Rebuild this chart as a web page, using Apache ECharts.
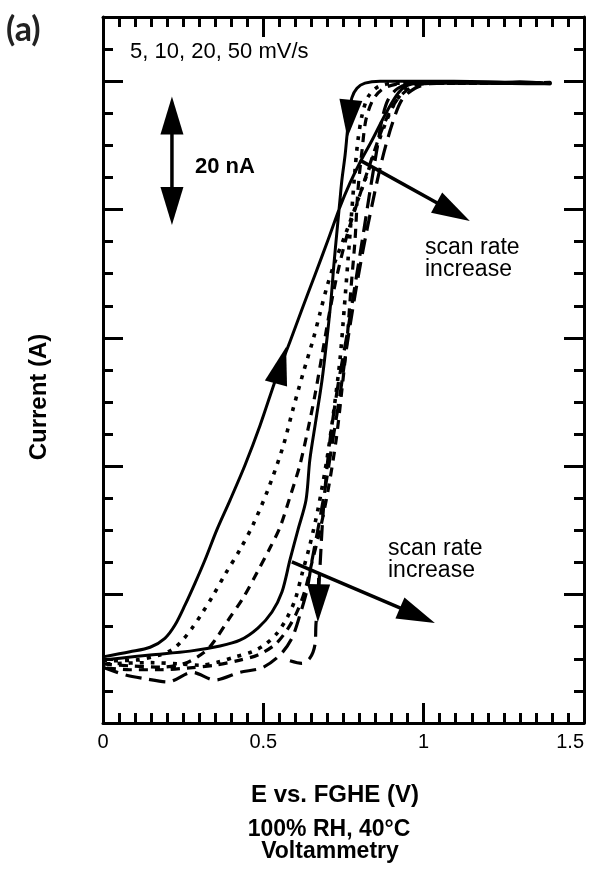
<!DOCTYPE html>
<html><head><meta charset="utf-8">
<script src="https://cdn.jsdelivr.net/npm/echarts@6/dist/echarts.min.js"></script>
<style>html,body{margin:0;padding:0;background:#fff}#c{width:591px;height:869px}</style>
</head><body><div id="c"></div>
<script>
// Axis ranges (V and nA)
const xMin = 0, xMax = 1.5, xStep = 0.5;
const yMin = 0, yMax = 110, yStep = 20;

// 5 mV/s (solid)
const s5Fwd = [[0,10.3],[.084,11.1],[.147,11.8],[.193,13.2],[.225,15.3],[.256,18.4],[.287,21.8],[.318,25.4],[.355,30.1],[.396,34.7],[.443,40.2],[.490,46.4],[.543,54.2],[.583,59.4],[.620,64.4],[.661,69.8],[.702,75.3],[.739,80.4],[.770,84.1],[.801,87.3],[.839,90.8],[.879,94.7],[.917,97.9],[.948,99.3],[.988,99.7],[1.082,99.9],[1.207,99.7],[1.300,99.9],[1.394,99.6]];
const s5Bwd = [[1.394,99.6],[1.20,99.9],[.988,100.0],[.864,100.0],[.817,99.7],[.792,98.9],[.776,97.4],[.767,94.7],[.761,91.6],[.755,88.5],[.745,84.6],[.739,81.5],[.730,76.8],[.720,71.4],[.711,65.9],[.698,59.7],[.683,53.4],[.664,47.2],[.645,41.0],[.633,34.7],[.608,30.1],[.583,25.4],[.558,20.4],[.527,17.3],[.483,14.8],[.427,12.9],[.365,12.0],[.271,11.2],[.147,10.6],[.053,10.1],[0,9.8]];
// 10 mV/s (dotted)
const s10Fwd = [[0,9.7],[.1,9.8],[.178,10.6],[.215,11.4],[.246,12.8],[.278,14.8],[.309,17.1],[.340,19.6],[.380,23.1],[.427,27.0],[.468,30.9],[.514,36.3],[.561,43.0],[.592,48.8],[.624,54.5],[.655,59.7],[.677,63.9],[.698,67.9],[.723,71.8],[.755,76.0],[.795,81.5],[.839,87.7],[.879,93.2],[.910,96.6],[.942,98.6],[.988,99.6],[1.051,99.7],[1.394,99.7]];
const s10Bwd = [[1.394,99.7],[1.051,99.7],[.910,99.7],[.857,99.1],[.826,97.5],[.808,94.7],[.795,90.8],[.786,86.2],[.776,79.9],[.764,72.1],[.752,64.4],[.739,56.6],[.720,48.8],[.698,41.0],[.670,33.2],[.645,27.7],[.620,23.1],[.599,19.2],[.574,16.4],[.543,14.0],[.505,12.2],[.465,11.1],[.412,10.3],[.359,9.5],[.302,9.0],[.240,9.2],[.150,9.4],[0,9.2]];
// 20 mV/s (short dash)
const s20Fwd = [[0,9.2],[.084,8.9],[.178,8.7],[.256,9.3],[.318,11.1],[.349,12.9],[.390,16.0],[.437,19.5],[.480,23.4],[.521,27.3],[.552,30.5],[.583,35.2],[.614,40.2],[.639,45.7],[.661,51.1],[.683,57.3],[.705,63.6],[.730,69.8],[.761,76.0],[.801,82.3],[.842,88.5],[.879,93.6],[.917,97.1],[.957,98.9],[1.004,99.6],[1.066,99.7],[1.394,99.8]];
const s20Bwd = [[1.394,99.8],[1.066,99.7],[.926,99.6],[.873,98.8],[.842,97.1],[.820,94.0],[.808,89.3],[.795,83.0],[.786,75.3],[.773,67.5],[.761,59.7],[.745,51.9],[.727,44.1],[.702,36.3],[.677,30.1],[.652,25.1],[.630,20.7],[.605,17.3],[.574,14.5],[.536,12.2],[.483,10.6],[.427,9.8],[.349,9.0],[.271,8.6],[.178,8.3],[.084,8.3],[0,8.6]];
// 50 mV/s (long dash)
const s50Fwd = [[0,8.7],[.069,7.5],[.131,6.9],[.203,6.4],[.278,7.9],[.349,6.7],[.427,7.9],[.496,8.6],[.552,10.6],[.589,13.2],[.614,16.8],[.636,20.7],[.652,25.4],[.670,30.1],[.692,36.3],[.714,43.3],[.739,51.1],[.761,58.9],[.786,66.7],[.811,73.7],[.839,80.7],[.870,87.7],[.901,93.2],[.932,97.1],[.973,98.9],[1.020,99.6],[1.113,99.7],[1.394,99.6]];
const s50Bwd = [[1.394,99.6],[1.113,99.7],[.973,99.7],[.920,98.9],[.889,97.1],[.870,94.0],[.854,89.3],[.833,83.0],[.811,76.0],[.786,68.2],[.761,60.5],[.733,52.7],[.708,44.1],[.692,36.3],[.683,30.1],[.677,24.6],[.670,19.2],[.664,15.3],[.661,12.2],[.645,10.1],[.620,9.3],[.583,9.7]];

// Arrows: [xFrom, yFrom, xTo, yTo, kind] kind 0 = head only, 1 = shaft + head, 2 = double-headed
const arrows = [
  [.215,77.6,.215,97.6,2],
  [.540,53.0,.571,58.6,0],
  [.774,97.6,.762,91.2,0],
  [.673,22.6,.670,15.7,1],
  [.801,87.7,1.144,78.2,1],
  [.589,25.1,1.035,15.6,1]
];

const FONT = "'Liberation Sans', Arial, sans-serif";
const chart = echarts.init(document.getElementById('c'), null, {renderer:'canvas'});

function lineSeries(name, data, type, width){
  return {name, type:'line', data, showSymbol:false, symbol:'none', smooth:0.3, smoothMonotone:'none',
    animation:false, z:3,
    lineStyle:{color:'#000', width:width, type, cap:'butt', join:'round'}};
}

function axisCommon(pos, isX, showLabel){
  return {
    type:'value', position:pos,
    min: isX ? xMin : yMin, max: isX ? xMax : yMax, interval: isX ? xStep : yStep,
    axisLine:{show:true, onZero:false, lineStyle:{color:'#000', width:3}},
    axisTick:{show:true, inside:true, length:20, lineStyle:{color:'#000', width:3}},
    minorTick:{show:true, splitNumber: isX ? 10 : 4, length:10, lineStyle:{color:'#000', width:3}},
    splitLine:{show:false}, minorSplitLine:{show:false},
    axisLabel:{show:showLabel, color:'#000', fontSize:20, fontFamily:FONT, margin:9,
      showMinLabel:true, showMaxLabel:true, alignMaxLabel:'right', hideOverlap:false}
  };
}

const option = {
  animation:false,
  backgroundColor:'#fff',
  grid:{left:103, right:7, top:17, bottom:146, containLabel:false, outerBoundsMode:'none'},
  xAxis:[axisCommon('bottom', true, true), axisCommon('top', true, false)],
  yAxis:[axisCommon('left', false, false), axisCommon('right', false, false)],
  series:[
    lineSeries('5 mV/s', s5Fwd.concat(s5Bwd), 'solid', 3),
    lineSeries('10 mV/s', s10Fwd.concat(s10Bwd), [4,7], 3.6),
    lineSeries('20 mV/s', s20Fwd.concat(s20Bwd), [9,7], 3.2),
    lineSeries('50 mV/s', s50Fwd.concat(s50Bwd), [16,8], 3.2),
    {
      type:'custom', coordinateSystem:'cartesian2d', data:arrows, z:5, animation:false,
      encode:{x:[0,2], y:[1,3]}, clip:false,
      renderItem:function(params, api){
        const a = api.coord([api.value(0), api.value(1)]);
        const b = api.coord([api.value(2), api.value(3)]);
        const kind = api.value(4);
        const L = 38, W = 23;
        const dx = b[0]-a[0], dy = b[1]-a[1];
        const len = Math.sqrt(dx*dx+dy*dy);
        const ux = dx/len, uy = dy/len, nx = -uy, ny = ux;
        const head = (tip, sx, sy) => {
          const bx = tip[0]-sx*L, by = tip[1]-sy*L;
          return {type:'polygon', shape:{points:[[tip[0],tip[1]],[bx+nx*W/2, by+ny*W/2],[bx-nx*W/2, by-ny*W/2]]},
            style:{fill:'#000'}};
        };
        const children = [];
        if (kind >= 1){
          const s = kind === 2 ? [a[0]+ux*L*0.9, a[1]+uy*L*0.9] : a;
          children.push({type:'line', shape:{x1:s[0], y1:s[1], x2:b[0]-ux*L*0.9, y2:b[1]-uy*L*0.9},
            style:{stroke:'#000', lineWidth:3.5}});
        }
        children.push(head(b, ux, uy));
        if (kind === 2) children.push(head(a, -ux, -uy));
        return {type:'group', children};
      }
    }
  ],
  graphic:[
    {type:'text', x:6, y:30, style:{text:'(a)', font:"bold 34px Lato, 'Open Sans', sans-serif", fill:'#222', align:'left', verticalAlign:'middle'}},
    {type:'text', x:130, y:52, style:{text:'5, 10, 20, 50 mV/s', font:'22px '+FONT, fill:'#000', align:'left', verticalAlign:'middle'}},
    {type:'text', x:195, y:167, style:{text:'20 nA', font:'bold 22px '+FONT, fill:'#000', align:'left', verticalAlign:'middle'}},
    {type:'text', x:425, y:259, style:{text:'scan rate\nincrease', font:'23px '+FONT, lineHeight:22, fill:'#000', align:'left', verticalAlign:'middle'}},
    {type:'text', x:388, y:560, style:{text:'scan rate\nincrease', font:'23px '+FONT, lineHeight:22, fill:'#000', align:'left', verticalAlign:'middle'}},
    {type:'text', x:39, y:397, rotation:Math.PI/2, style:{text:'Current (A)', font:'bold 24px '+FONT, fill:'#000', align:'center', verticalAlign:'middle'}},
    {type:'text', x:335, y:795, style:{text:'E vs. FGHE (V)', font:'bold 24px '+FONT, fill:'#000', align:'center', verticalAlign:'middle'}},
    {type:'text', x:329, y:830, style:{text:'100% RH, 40°C', font:'bold 23px '+FONT, fill:'#000', align:'center', verticalAlign:'middle'}},
    {type:'text', x:330, y:852, style:{text:'Voltammetry', font:'bold 23px '+FONT, fill:'#000', align:'center', verticalAlign:'middle'}}
  ]
};
chart.setOption(option);
</script>
</body></html>
